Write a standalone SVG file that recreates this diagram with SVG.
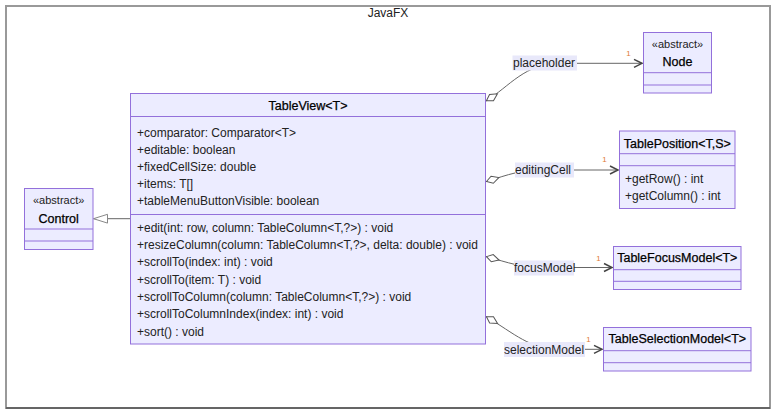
<svg xmlns="http://www.w3.org/2000/svg" width="784" height="419" viewBox="0 0 784 419">
<defs>
<style>
text{font-family:"Liberation Sans",Arial,sans-serif;font-size:12px;fill:#222}
.frame{fill:#fff;stroke:#999;stroke-width:2}
.box{fill:#ECECFF;stroke:#9370DB;stroke-width:1}
.sep{stroke:#9370DB;stroke-width:1}
.title{font-size:12.5px;text-anchor:middle;fill:#000;stroke:#000;stroke-width:0.25}
.ctr{text-anchor:middle}
.stereo{font-size:11px;text-anchor:middle}
.edge{fill:none;stroke:#666;stroke-width:1}
.lbg{fill:#E8E8FA}
.card{font-size:8px;fill:#E07B39;text-anchor:middle}
</style>
<marker id="diamond" markerUnits="userSpaceOnUse" markerWidth="16" markerHeight="10" refX="0" refY="5" orient="auto" viewBox="0 0 16 10">
<path d="M0.5,5 L6.5,1.3 L13.5,5 L6.5,8.7 Z" fill="#fff" stroke="#555" stroke-width="1"/>
</marker>
<marker id="arrow" markerUnits="userSpaceOnUse" markerWidth="12" markerHeight="12" refX="10" refY="6" orient="auto" viewBox="0 0 12 12">
<path d="M2,2 L10,6 L2,10" fill="none" stroke="#444" stroke-width="1.5"/>
</marker>
<marker id="tri" markerUnits="userSpaceOnUse" markerWidth="18" markerHeight="12" refX="15" refY="6" orient="auto" viewBox="0 0 18 12">
<path d="M1,1.6 L15,6 L1,10.4 Z" fill="#fff" stroke="#888" stroke-width="1"/>
</marker>
</defs>

<rect class="frame" x="6" y="6" width="764" height="402"/>
<line x1="6" y1="408" x2="770" y2="408" stroke="#333" stroke-width="1"/>
<text class="ctr" x="388" y="17">JavaFX</text>

<g id="connectors">
<path class="edge" d="M130,218.7 L93.5,218.7" marker-end="url(#tri)" stroke="#888"/>
<path class="edge" d="M486,101 C510,86 525,63.3 560,63.3 L642,63.3" marker-start="url(#diamond)" marker-end="url(#arrow)"/>
<path class="edge" d="M486,181.7 C510,174 520,170 545,170 L618,170" marker-start="url(#diamond)" marker-end="url(#arrow)"/>
<path class="edge" d="M486,256.5 C510,263 520,267.5 545,267.5 L612,267.5" marker-start="url(#diamond)" marker-end="url(#arrow)"/>
<path class="edge" d="M486,316.5 C515,334 530,349.3 560,349.3 L602,349.3" marker-start="url(#diamond)" marker-end="url(#arrow)"/>
<g id="label-placeholder"><rect class="lbg" x="512.5" y="55.5" width="64.5" height="15"/><text x="513" y="67">placeholder</text></g>
<g id="label-editingCell"><rect class="lbg" x="515" y="162.5" width="59" height="15"/><text x="515" y="174">editingCell</text></g>
<g id="label-focusModel"><rect class="lbg" x="514" y="260.5" width="60" height="15"/><text x="514" y="272">focusModel</text></g>
<g id="label-selectionModel"><rect class="lbg" x="504" y="342" width="81" height="15"/><text x="504" y="353.5">selectionModel</text></g>
<text class="card" x="628.5" y="55.5">1</text>
<text class="card" x="604.5" y="162">1</text>
<text class="card" x="598.5" y="261">1</text>
<text class="card" x="588.5" y="342">1</text>
</g>

<g id="TableView">
<rect class="box" x="130.5" y="93.5" width="355" height="250.5"/>
<line class="sep" x1="130.5" y1="116.5" x2="485.5" y2="116.5"/>
<line class="sep" x1="130.5" y1="214.5" x2="485.5" y2="214.5"/>
<text class="title" x="308" y="110">TableView&lt;T&gt;</text>
<text x="137" y="136.5">+comparator: Comparator&lt;T&gt;</text>
<text x="137" y="153.7">+editable: boolean</text>
<text x="137" y="170.9">+fixedCellSize: double</text>
<text x="137" y="188.1">+items: T[]</text>
<text x="137" y="205.3">+tableMenuButtonVisible: boolean</text>
<text x="137" y="231.7">+edit(int: row, column: TableColumn&lt;T,?&gt;) : void</text>
<text x="137" y="249">+resizeColumn(column: TableColumn&lt;T,?&gt;, delta: double) : void</text>
<text x="137" y="266.3">+scrollTo(index: int) : void</text>
<text x="137" y="283.6">+scrollTo(item: T) : void</text>
<text x="137" y="300.9">+scrollToColumn(column: TableColumn&lt;T,?&gt;) : void</text>
<text x="137" y="318.2">+scrollToColumnIndex(index: int) : void</text>
<text x="137" y="335.5">+sort() : void</text>
</g>

<g id="Control">
<rect class="box" x="24.5" y="188.5" width="68.5" height="61"/>
<line class="sep" x1="24.5" y1="229" x2="93" y2="229"/>
<line class="sep" x1="24.5" y1="241" x2="93" y2="241"/>
<text class="stereo" x="58.7" y="204">«abstract»</text>
<text class="title" x="58.7" y="222.7">Control</text>
</g>

<g id="Node">
<rect class="box" x="643.5" y="32.5" width="68" height="60.5"/>
<line class="sep" x1="643.5" y1="72.7" x2="711.5" y2="72.7"/>
<line class="sep" x1="643.5" y1="85" x2="711.5" y2="85"/>
<text class="stereo" x="677.5" y="48.3">«abstract»</text>
<text class="title" x="677.5" y="66">Node</text>
</g>

<g id="TablePosition">
<rect class="box" x="619.5" y="131" width="115.5" height="77.5"/>
<line class="sep" x1="619.5" y1="153.7" x2="735" y2="153.7"/>
<line class="sep" x1="619.5" y1="165.7" x2="735" y2="165.7"/>
<text class="title" x="677.3" y="148.3">TablePosition&lt;T,S&gt;</text>
<text x="625" y="183.3">+getRow() : int</text>
<text x="625" y="199.5">+getColumn() : int</text>
</g>

<g id="TableFocusModel">
<rect class="box" x="613.5" y="246.5" width="127.5" height="43"/>
<line class="sep" x1="613.5" y1="269.7" x2="741" y2="269.7"/>
<line class="sep" x1="613.5" y1="281.3" x2="741" y2="281.3"/>
<text class="title" x="677.3" y="262.3">TableFocusModel&lt;T&gt;</text>
</g>

<g id="TableSelectionModel">
<rect class="box" x="603.5" y="327.5" width="147.5" height="43.5"/>
<line class="sep" x1="603.5" y1="350.7" x2="751" y2="350.7"/>
<line class="sep" x1="603.5" y1="362.7" x2="751" y2="362.7"/>
<text class="title" x="677.3" y="343.3">TableSelectionModel&lt;T&gt;</text>
</g>
</svg>
